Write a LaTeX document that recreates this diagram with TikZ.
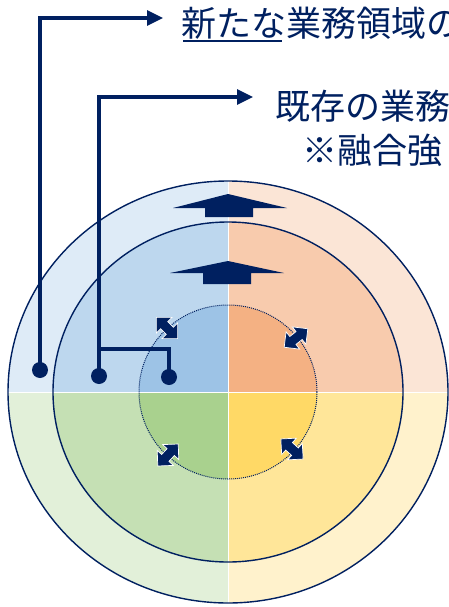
\documentclass[tikz,border=0pt]{standalone}
\usepackage{fontspec}
\newfontfamily\jp{Noto Sans CJK JP}
\usetikzlibrary{arrows.meta}
\definecolor{navy}{HTML}{002060}
\definecolor{oTL}{HTML}{DEEBF7}
\definecolor{oTR}{HTML}{FBE5D6}
\definecolor{oBL}{HTML}{E2F0D9}
\definecolor{oBR}{HTML}{FFF2CC}
\definecolor{mTL}{HTML}{BDD7EE}
\definecolor{mTR}{HTML}{F8CBAD}
\definecolor{mBL}{HTML}{C5E0B4}
\definecolor{mBR}{HTML}{FFE699}
\definecolor{iTL}{HTML}{9DC3E6}
\definecolor{iTR}{HTML}{F4B183}
\definecolor{iBL}{HTML}{A9D18E}
\definecolor{iBR}{HTML}{FFD966}
\tikzset{
  conn/.style={draw=navy, line width=3.3pt},
  dotnode/.style={circle, fill=navy, inner sep=0pt, minimum size=16pt},
  ringline/.style={draw=navy, line width=1.4pt},
  label/.style={text=navy, font=\jp\fontsize{35pt}{40pt}\selectfont, inner sep=0pt, anchor=base west},
  uparrow/.style={fill=navy},
  dblarrow/.style={fill=navy, draw=white, line width=0.7pt},
}
\begin{document}
\begin{tikzpicture}[x=1pt,y=-1pt]
\useasboundingbox (0,0) rectangle (449,607);
\clip (0,0) rectangle (449,607);
\coordinate (c) at (228,392);
% outer ring quadrants
\begin{scope}
  \clip (c) ellipse [x radius=220, y radius=211];
  \fill[oTL] (0,0) rectangle (228,392);
  \fill[oTR] (228,0) rectangle (449,392);
  \fill[oBL] (0,392) rectangle (228,607);
  \fill[oBR] (228,392) rectangle (449,607);
\end{scope}
% middle ring quadrants
\begin{scope}
  \clip (c) ellipse [x radius=175, y radius=170];
  \fill[mTL] (0,0) rectangle (228,392);
  \fill[mTR] (228,0) rectangle (449,392);
  \fill[mBL] (0,392) rectangle (228,607);
  \fill[mBR] (228,392) rectangle (449,607);
\end{scope}
% inner quadrants
\begin{scope}
  \clip (c) ellipse [x radius=89, y radius=87];
  \fill[iTL] (0,0) rectangle (228,392);
  \fill[iTR] (228,0) rectangle (449,392);
  \fill[iBL] (0,392) rectangle (228,607);
  \fill[iBR] (228,392) rectangle (449,607);
\end{scope}
% white dividers
\draw[white, line width=1pt] (228,181) -- (228,606);
\draw[white, line width=1pt] (7,392) -- (449,392);
% outlines
\draw[ringline] (c) ellipse [x radius=220, y radius=211];
\draw[ringline] (c) ellipse [x radius=175, y radius=170];
\draw[navy, line width=1pt, dash pattern=on 1pt off 1pt] (c) ellipse [x radius=89, y radius=87];
% up arrows
\fill[uparrow] (228,194) -- (287,208) -- (253,208) -- (253,217) -- (205,217) -- (205,208) -- (173,208) -- cycle;
\fill[uparrow] (228,261) -- (284,273) -- (251,273) -- (251,284) -- (203,284) -- (203,273) -- (170,273) -- cycle;
% double arrows on dotted circle
\foreach \px/\py/\ang in {167/328/135, 296/338/38, 168/455/-133, 292/449/-42}{
  \begin{scope}[shift={(\px,\py)}, rotate=\ang]
    \path[dblarrow] (15,0) -- (4,11) -- (4,5) -- (-4,5) -- (-4,11) -- (-15,0)
      -- (-4,-11) -- (-4,-5) -- (4,-5) -- (4,-11) -- cycle;
  \end{scope}
}
% connectors
\node[dotnode] (d1) at (40,370) {};
\node[dotnode] (d2) at (99,376) {};
\node[dotnode] (d3) at (169,377) {};
\coordinate (a1) at (163,18);
\coordinate (a2) at (253,97);
\coordinate (j) at (99,349);
\draw[conn, -{Triangle[length=16pt,width=15pt]}] (d1.center) |- (a1);
\draw[conn, -{Triangle[length=16pt,width=15pt]}] (d2.center) |- (a2);
\draw[conn] (d3.center) |- (j);
% texts
\node[label] (t1) at (181,37) {新たな業務領域の};
\draw[navy, line width=1.6pt] (183,41) -- (282,41);
\node[label] (t2) at (275,119) {既存の業務};
\node[label] (t3) at (302,163) {※融合強};
\end{tikzpicture}
\end{document}
